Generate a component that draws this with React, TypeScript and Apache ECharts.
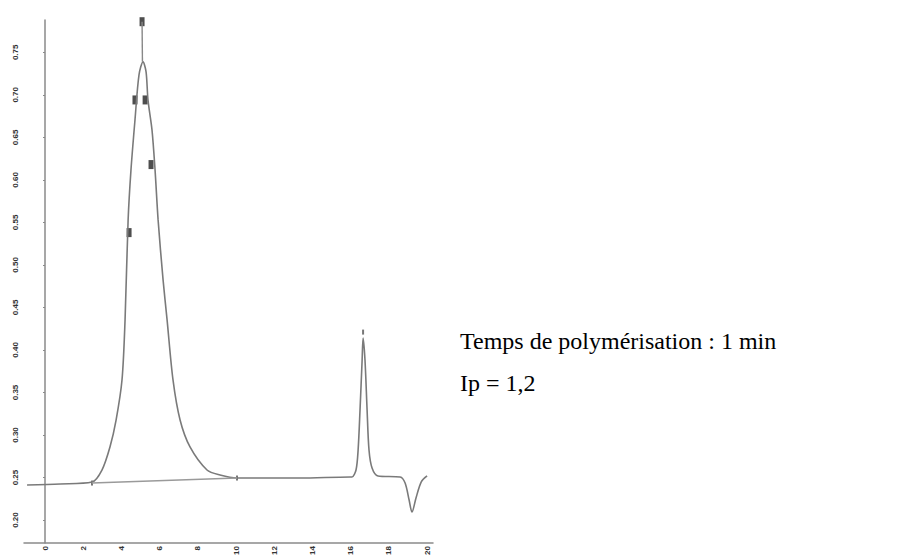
import React, { useEffect, useRef } from "react";
import * as echarts from "echarts";

// Chromatogram trace (retention time, detector response)
const traceX = [-0.94, 0.79, 2.46, 2.98, 3.4, 3.72, 4.03, 4.19, 4.35, 4.5, 4.71, 4.92, 5.13, 5.29, 5.39, 5.6, 5.76, 5.92, 6.18, 6.39, 6.7, 7.07, 7.59, 8.48, 9.16, 10.05, 13.35, 15.97, 16.07, 16.28, 16.39, 16.49, 16.6, 16.65, 16.75, 16.86, 16.96, 17.12, 17.43, 18.59, 18.85, 19.06, 19.21, 19.42, 19.69, 20.0];
const traceY = [0.2412, 0.2424, 0.2447, 0.2588, 0.2859, 0.3176, 0.3647, 0.4353, 0.5529, 0.6118, 0.6706, 0.7235, 0.7388, 0.7271, 0.6941, 0.6588, 0.6118, 0.5529, 0.4824, 0.4353, 0.3647, 0.3176, 0.2859, 0.2588, 0.2529, 0.2494, 0.2494, 0.2506, 0.2506, 0.2588, 0.2824, 0.3294, 0.3882, 0.4141, 0.3882, 0.3294, 0.2824, 0.2612, 0.2518, 0.2506, 0.2435, 0.2235, 0.2094, 0.2259, 0.2447, 0.2518];

// Integration baseline under the main peak
const baseX = [2.46, 10.05];
const baseY = [0.2435, 0.2494];

// Spike at the top of the main peak
const spikeX = [5.08, 5.1];
const spikeY = [0.786, 0.7388];

// Integrator marks
const markX = [5.08, 4.71, 5.24, 5.55, 4.4];
const markY = [0.786, 0.694, 0.694, 0.618, 0.538];
const smallMarkX = [16.65, 2.46, 10.05];
const smallMarkY = [0.421, 0.2435, 0.2494];

const yTicks = [0.2, 0.25, 0.3, 0.35, 0.4, 0.45, 0.5, 0.55, 0.6, 0.65, 0.7, 0.75];
const xTicks = [0, 2, 4, 6, 8, 10, 12, 14, 16, 18, 20];

const line1 = "Temps de polymérisation : 1 min";
const line2 = "Ip = 1,2";

export default function App() {
  const ref = useRef<HTMLDivElement>(null);
  useEffect(() => {
    if (!ref.current) return;
    const chart = echarts.init(ref.current, undefined, { renderer: "svg" });
    const zip = (xs: number[], ys: number[]) => xs.map((x, i) => [x, ys[i]]);
    chart.setOption({
      animation: false,
      backgroundColor: "#ffffff",
      grid: { left: 24, right: 464, top: 20, bottom: 15, containLabel: false },
      xAxis: {
        type: "value",
        min: -1.1,
        max: 20.31,
        splitLine: { show: false },
        axisLine: { show: true, lineStyle: { color: "#8a8a8a", width: 1.5 } },
        axisTick: { show: false },
        axisLabel: {
          customValues: xTicks,
          rotate: 90,
          fontSize: 8,
          fontWeight: "bold",
          color: "#333",
          margin: 3,
          formatter: (v: number) => String(v),
        },
      },
      yAxis: {
        type: "value",
        min: 0.173,
        max: 0.788,
        splitLine: { show: false },
        axisLine: { show: true, lineStyle: { color: "#8a8a8a", width: 1.5 } },
        axisTick: { show: true, customValues: yTicks, length: 2, lineStyle: { color: "#8a8a8a" } },
        axisLabel: {
          customValues: yTicks,
          rotate: 90,
          fontSize: 8,
          fontWeight: "bold",
          color: "#333",
          margin: 5,
          formatter: (v: number) => v.toFixed(2),
        },
      },
      series: [
        {
          type: "line",
          data: zip(traceX, traceY),
          showSymbol: false,
          smooth: 0.3,
          lineStyle: { color: "#7a7a7a", width: 1.6 },
        },
        {
          type: "line",
          data: zip(baseX, baseY),
          showSymbol: false,
          lineStyle: { color: "#9a9a9a", width: 1.4 },
        },
        {
          type: "line",
          data: zip(spikeX, spikeY),
          showSymbol: false,
          lineStyle: { color: "#888", width: 1.4 },
        },
        {
          type: "scatter",
          data: zip(markX, markY),
          symbol: "rect",
          symbolSize: [5, 9],
          itemStyle: { color: "#222" },
        },
        {
          type: "scatter",
          data: zip(smallMarkX, smallMarkY),
          symbol: "rect",
          symbolSize: [2, 5],
          itemStyle: { color: "#555" },
        },
      ],
      graphic: [
        {
          type: "text",
          left: 460,
          top: 329,
          style: { text: line1, font: "24px 'Liberation Serif', serif", fill: "#000" },
        },
        {
          type: "text",
          left: 460,
          top: 371,
          style: { text: line2, font: "24px 'Liberation Serif', serif", fill: "#000" },
        },
      ],
    });
    return () => chart.dispose();
  }, []);
  return <div ref={ref} style={{ position: "fixed", left: 0, top: 0, width: 897, height: 558 }} />;
}
